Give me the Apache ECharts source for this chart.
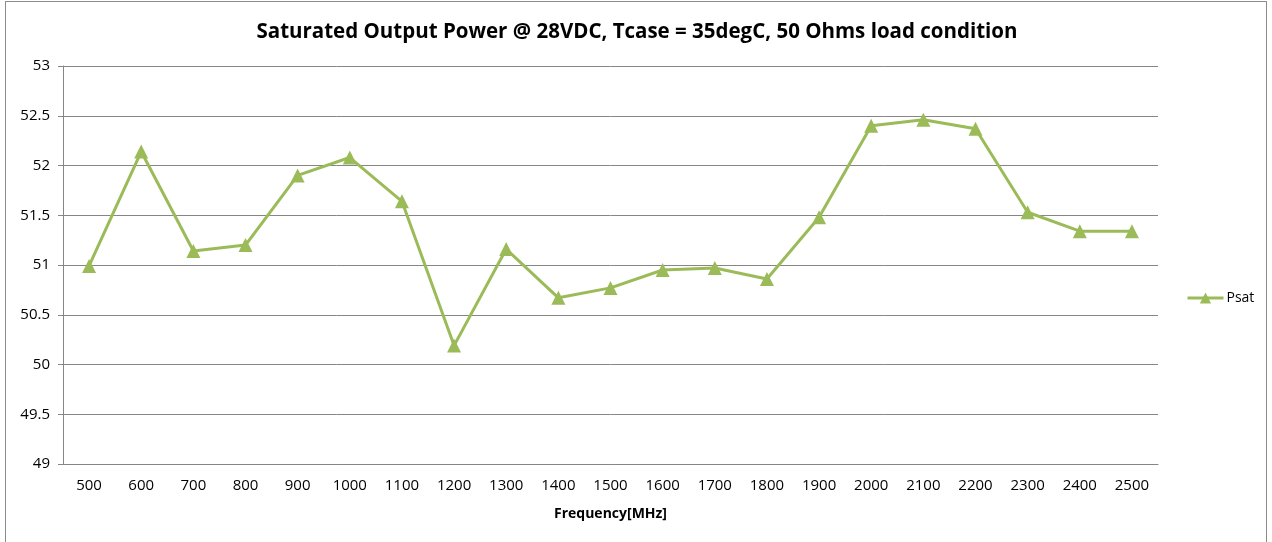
<!DOCTYPE html>
<html>
<head>
<meta charset="utf-8">
<script src="https://cdn.jsdelivr.net/npm/echarts@6/dist/echarts.min.js"></script>
<style>
  html, body { margin: 0; padding: 0; background: #fff; }
  #frame { position: absolute; left: 5px; top: 1px; width: 1262px; height: 560px; border: 1px solid #8c8c8c; box-sizing: border-box; }
  #chart { position: absolute; left: 0; top: 0; width: 1272px; height: 542px; }
</style>
</head>
<body>
<div id="frame"></div>
<div id="chart"></div>
<script>
// frequency categories (MHz)
var freqs = ["500", "600", "700", "800", "900", "1000", "1100", "1200", "1300", "1400", "1500",
  "1600", "1700", "1800", "1900", "2000", "2100", "2200", "2300", "2400", "2500"];
// saturated output power
var psat = [50.99, 52.14, 51.14, 51.20, 51.90, 52.08, 51.64, 50.19, 51.16, 50.67, 50.77,
  50.95, 50.97, 50.86, 51.48, 52.40, 52.46, 52.37, 51.53, 51.34, 51.34];

var myChart = echarts.init(document.getElementById("chart"));
var font = "'Open Sans', 'Liberation Sans', sans-serif";
myChart.setOption({
  animation: false,
  title: {
    text: "Saturated Output Power @ 28VDC, Tcase = 35degC, 50 Ohms load condition",
    left: 632,
    top: 17,
    textAlign: "center",
    textStyle: { fontFamily: font, fontSize: 20.5, fontWeight: "bold", color: "#000" }
  },
  color: ["#9bbb59"],
  legend: {
    left: 1181,
    top: 286,
    itemWidth: 36,
    itemHeight: 14,
    itemGap: 4,
    lineStyle: { width: 3 },
    textStyle: { fontFamily: font, fontSize: 14, color: "#000", padding: [0, 0, 0, -2] },
    data: ["Psat"]
  },
  grid: { left: 63, right: 114, top: 66, bottom: 78 },
  xAxis: {
    type: "category",
    data: freqs,
    boundaryGap: true,
    name: "Frequency[MHz]",
    nameLocation: "middle",
    nameGap: 43,
    nameTextStyle: { fontFamily: font, fontSize: 14, fontWeight: "bold", color: "#000" },
    axisLine: { lineStyle: { color: "#868686" } },
    axisTick: { show: false },
    axisLabel: { fontFamily: font, fontSize: 15, color: "#000", margin: 14 }
  },
  yAxis: {
    type: "value",
    min: 49,
    max: 53,
    interval: 0.5,
    axisLine: { show: true, lineStyle: { color: "#868686" } },
    axisTick: { show: true, length: 5, lineStyle: { color: "#868686" } },
    axisLabel: { fontFamily: font, fontSize: 15, color: "#000", margin: 13 },
    splitLine: { lineStyle: { color: "#868686" } }
  },
  series: [{
    name: "Psat",
    type: "line",
    data: psat,
    symbol: "triangle",
    symbolSize: 14,
    lineStyle: { width: 3 },
    itemStyle: { color: "#9bbb59" }
  }]
});
</script>
</body>
</html>
